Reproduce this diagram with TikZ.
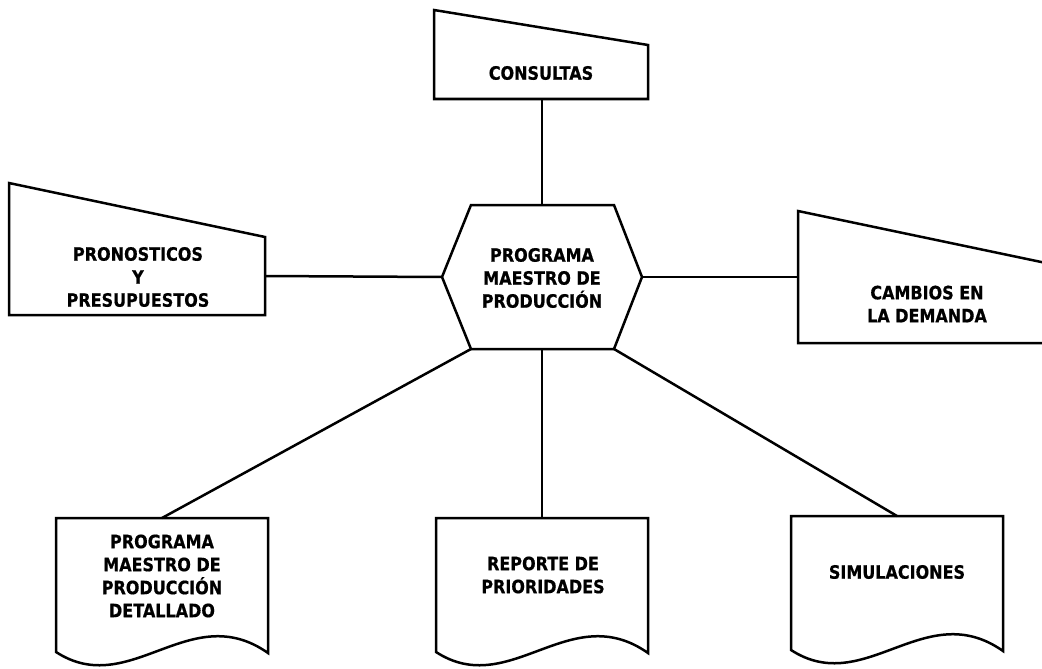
\documentclass[tikz,border=0pt]{standalone}
\usepackage{fontspec}
\setmainfont[FakeStretch=0.87, BoldFeatures={FakeBold=0.6}]{DejaVu Sans}
\begin{document}
\begin{tikzpicture}[x=1pt,y=-1pt,
  shapeline/.style={draw=black, line width=2.5pt, line join=miter},
  link/.style={draw=black, line width=2.5pt},
  lbl/.style={align=center, font=\bfseries\fontsize{18.4}{23}\selectfont, inner sep=0pt},
  docpage/.pic={
    \draw[shapeline] (-106,0) -- (106,0) -- (106,135)
      .. controls (28,80) and (-32,182) .. (-106,134) -- cycle;
    \coordinate (-top) at (0,0);
  }]
\useasboundingbox (0,0) rectangle (1042,669);

% central hexagon
\draw[shapeline] (471,205) -- (614,205) -- (642,277) -- (614,349)
  -- (471,349) -- (442,277) -- cycle;
\coordinate (hexT) at (542,205);
\coordinate (hexL) at (442,277);
\coordinate (hexR) at (642,277);
\coordinate (hexB) at (542,349);
\coordinate (hexBL) at (471,349);
\coordinate (hexBR) at (614,349);
\node[lbl] (pmp) at (542,278) {PROGRAMA\\MAESTRO DE\\PRODUCCIÓN};

% manual input shapes
\draw[shapeline] (434,10) -- (648,45) -- (648,99) -- (434,99) -- cycle;
\coordinate (consB) at (542,99);
\node[lbl] (cons) at (541,73) {CONSULTAS};

\draw[shapeline] (9,183) -- (265,237) -- (265,315) -- (9,315) -- cycle;
\coordinate (pronR) at (265,276);
\node[lbl] (pron) at (138,277) {PRONOSTICOS\\Y\\PRESUPUESTOS};

\draw[shapeline] (798,211) -- (1046,263) -- (1046,343) -- (798,343) -- cycle;
\coordinate (cambL) at (798,277);
\node[lbl] (camb) at (927,304) {CAMBIOS EN\\LA DEMANDA};

% documents
\pic (docA) at (162,518) {docpage};
\node[lbl] (pmpd) at (162,576) {PROGRAMA\\MAESTRO DE\\PRODUCCIÓN\\DETALLADO};
\pic (docB) at (542,518) {docpage};
\node[lbl] (rep) at (543,575) {REPORTE DE\\PRIORIDADES};
\pic (docC) at (897,516) {docpage};
\node[lbl] (sim) at (897,572) {SIMULACIONES};

% connectors
\draw[link] (consB) -- (hexT);
\draw[link] (pronR) -- (hexL);
\draw[link] (hexR) -- (cambL);
\draw[link] (hexBL) -- (docA-top);
\draw[link] (hexB) -- (docB-top);
\draw[link] (hexBR) -- (docC-top);
\end{tikzpicture}
\end{document}
